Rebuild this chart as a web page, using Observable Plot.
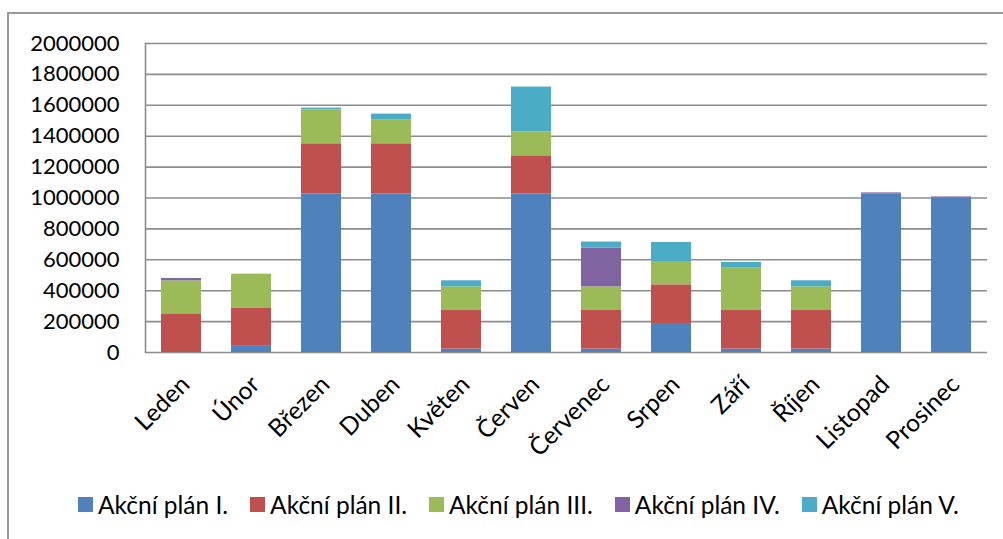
<!DOCTYPE html>
<html>
<head>
<meta charset="utf-8">
<script src="https://cdn.jsdelivr.net/npm/d3@7"></script>
<script src="https://cdn.jsdelivr.net/npm/@observablehq/plot@0.6"></script>
<style>
  html, body { margin: 0; padding: 0; background: #fff; }
  body { width: 1003px; height: 539px; overflow: hidden; position: relative; font-family: Lato, sans-serif; }
  #frame { position: absolute; left: 7px; top: 12px; width: 1010px; height: 540px; border: 2px solid #9a9a9a; box-sizing: border-box; }
  #chart { position: absolute; left: 0; top: 0; }
  #legend { position: absolute; left: 78px; top: 490px; display: flex; gap: 22px; font-size: 24.5px; color: #000; }
  #legend .item { display: flex; align-items: center; gap: 5px; white-space: nowrap; }
  #legend .sw { width: 15px; height: 15px; display: inline-block; }
</style>
</head>
<body>
<div id="frame"></div>
<div id="chart"></div>
<div id="legend"></div>
<script>
// Months (x categories)
const months = ["Leden", "Únor", "Březen", "Duben", "Květen", "Červen", "Červenec", "Srpen", "Září", "Říjen", "Listopad", "Prosinec"];

// Series names and values per month
const seriesNames = ["Akční plán I.", "Akční plán II.", "Akční plán III.", "Akční plán IV.", "Akční plán V."];
const plan1 = [0, 40000, 1025000, 1025000, 22000, 1025000, 22000, 188000, 22000, 22000, 1025000, 1000000];
const plan2 = [246000, 245000, 326000, 326000, 250000, 248000, 250000, 250000, 250000, 250000, 0, 0];
const plan3 = [218000, 222000, 220000, 153000, 153000, 155000, 153000, 151000, 274000, 153000, 0, 0];
const plan4 = [15000, 0, 0, 0, 0, 0, 251000, 0, 0, 0, 8000, 7000];
const plan5 = [0, 0, 11000, 39000, 39000, 290000, 39000, 123000, 37000, 39000, 0, 0];

const colors = ["#4F81BD", "#C0504D", "#9BBB59", "#8064A2", "#4BACC6"];
const yTicks = [0, 200000, 400000, 600000, 800000, 1000000, 1200000, 1400000, 1600000, 1800000, 2000000];

const allSeries = [plan1, plan2, plan3, plan4, plan5];
const rows = [];
allSeries.forEach((vals, si) => {
  vals.forEach((v, mi) => rows.push({month: months[mi], series: seriesNames[si], value: v}));
});

const chart = Plot.plot({
  width: 1003,
  height: 470,
  marginLeft: 145,
  marginRight: 16,
  marginTop: 43,
  marginBottom: 118,
  style: {fontFamily: "Lato, sans-serif", fontSize: "22px", color: "#000", background: "transparent", overflow: "visible"},
  x: {type: "band", domain: months, paddingInner: 0.43, paddingOuter: 0.215, label: null},
  y: {domain: [0, 2000000], label: null},
  color: {domain: seriesNames, range: colors},
  marks: [
    Plot.ruleY(yTicks, {stroke: "#8c8c8c", strokeWidth: 1.6}),
    Plot.barY(rows, Plot.stackY({x: "month", y: "value", fill: "series"})),
    Plot.frame({anchor: "left", stroke: "#8c8c8c", strokeWidth: 1.6}),
    Plot.axisY({ticks: yTicks, tickSize: 0, tickPadding: 26, tickFormat: d3.format("d"), label: null, fill: "#000"}),
    Plot.axisX({tickSize: 0, tickRotate: -45, tickPadding: 28, dx: 4, fontSize: 24.5, label: null, fill: "#000"})
  ]
});
document.getElementById("chart").appendChild(chart);

// Legend row under the chart
const legend = document.getElementById("legend");
seriesNames.forEach((name, i) => {
  const item = document.createElement("span");
  item.className = "item";
  const sw = document.createElement("span");
  sw.className = "sw";
  sw.style.background = colors[i];
  const label = document.createElement("span");
  label.textContent = name;
  item.appendChild(sw);
  item.appendChild(label);
  legend.appendChild(item);
});
</script>
</body>
</html>
